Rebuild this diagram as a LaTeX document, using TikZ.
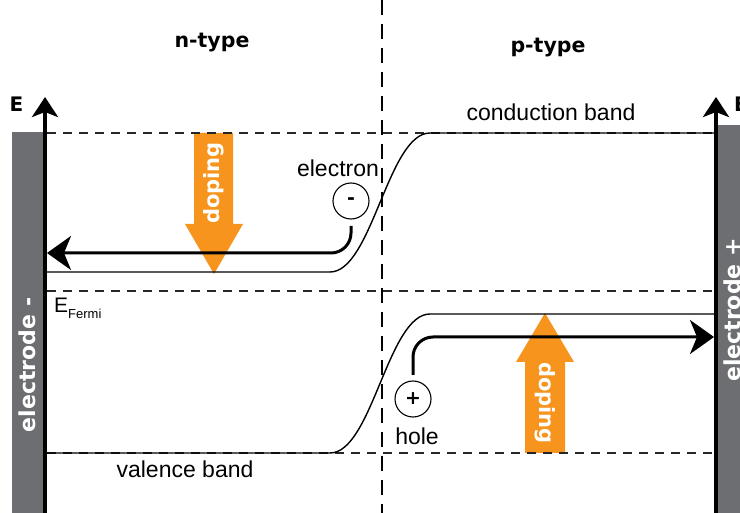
\documentclass[tikz,border=0pt]{standalone}
\usepackage{fontspec}
\setmainfont{Liberation Sans}
\newfontfamily\heavyfont{DejaVu Sans}
\usetikzlibrary{arrows.meta}
\definecolor{electrodegray}{RGB}{109,110,113}
\definecolor{dopingorange}{RGB}{247,148,29}
\tikzstyle{electrode} = [
    fill=electrodegray, draw=none
]
\tikzstyle{eltext} = [
    text=white, inner sep=0pt,
    font=\heavyfont\bfseries\fontsize{22}{26}\selectfont
]
\tikzstyle{typelabel} = [
    inner sep=0pt, anchor=base,
    font=\heavyfont\bfseries\fontsize{20.5}{24}\selectfont
]
\tikzstyle{bandlabel} = [
    inner sep=0pt, anchor=base,
    font=\fontsize{23}{27}\selectfont
]
\tikzstyle{carrier} = [
    circle, draw, line width=1.1pt,
    minimum size=36pt, inner sep=0pt,
    font=\heavyfont\bfseries\fontsize{19}{22}\selectfont
]
\tikzstyle{band} = [line width=1.4pt]
\tikzstyle{level} = [line width=1.1pt, draw=black!85, dash pattern=on 9pt off 7pt]
\tikzstyle{interface} = [line width=2.8pt, dash pattern=on 15pt off 9pt]
\tikzstyle{axis} = [line width=4.5pt, -{Stealth[length=20pt,width=26pt,inset=5pt]}]
\tikzstyle{flow} = [line width=3pt, rounded corners=20pt, -{Stealth[length=24pt,width=34pt,inset=7pt]}]
\tikzstyle{dopingarrow} = [fill=dopingorange, draw=none]

\begin{document}
\begin{tikzpicture}[x=1pt,y=-1pt]
        \useasboundingbox (0,0) rectangle (740,513);

        % Draw electrodes
        \fill [electrode] (12,132) rectangle (43,513);
        \fill [electrode] (718,125) rectangle (760,513);
        \node (elminus) [eltext, rotate=90] at (27,365) {electrode -};
        \node (elplus) [eltext, rotate=90] at (732,310) {electrode +};

        % Draw doping arrows
        \fill [dopingarrow] (194,133) -- (233,133) -- (233,224) -- (243,224)
            -- (214,274) -- (185,224) -- (194,224) -- cycle;
        \fill [dopingarrow] (525,453) -- (565,453) -- (565,362) -- (574,362)
            -- (545,313) -- (516,362) -- (525,362) -- cycle;
        \node (dopen) [eltext, font=\heavyfont\bfseries\fontsize{21}{24}\selectfont, rotate=90] at (214,183) {doping};
        \node (dopep) [eltext, font=\heavyfont\bfseries\fontsize{21}{24}\selectfont, rotate=-90] at (545,403) {doping};

        % Draw levels
        \draw [level] (47,133) -- (714,133);
        \draw [level] (47,291) -- (714,291);
        \draw [level] (47,453) -- (714,453);
        \draw [interface] (382,0) -- (382,513);

        % Draw bands
        \draw [band] (47,272) -- (330,272) .. controls (372,272) and (388,133) .. (430,133) -- (714,133);
        \draw [band] (47,453) -- (330,453) .. controls (372,453) and (388,314) .. (430,314) -- (714,314);

        % Draw axes
        \coordinate (lbot) at (45,513);
        \coordinate (ltop) at (45,97);
        \coordinate (rbot) at (716,513);
        \coordinate (rtop) at (716,97);
        \draw [axis] (lbot) -- (ltop);
        \draw [axis] (rbot) -- (rtop);
        \node (eleft) [typelabel, font=\heavyfont\bfseries\fontsize{20}{22}\selectfont] at (16.5,112) {E};
        \node (eright) [typelabel, anchor=base west, font=\heavyfont\bfseries\fontsize{20}{22}\selectfont] at (734,112) {E};

        % Draw labels
        \node (ntype) [typelabel] at (212,48) {n-type};
        \node (ptype) [typelabel] at (548,53) {p-type};
        \node (cband) [bandlabel] at (551,121) {conduction band};
        \node (vband) [bandlabel] at (185,478) {valence band};
        \node (fermi) [bandlabel, anchor=base west, font=\fontsize{21}{24}\selectfont] at (54,313)
            {E\raisebox{-6pt}{\fontsize{13}{15}\selectfont Fermi}};

        % Draw carriers
        \node (eminus) [carrier] at (351,201) {-};
        \node (hplus) [carrier] at (413,399) {+};
        \node (elabel) [bandlabel] at (338,177) {electron};
        \node (hlabel) [bandlabel] at (417,445) {hole};

        % Draw arrows
        \coordinate (estart) at (351,226);
        \coordinate (eend) at (47,253);
        \coordinate (hstart) at (413,375);
        \coordinate (hend) at (714,337);
        \draw [flow] (estart) |- (eend);
        \draw [flow] (hstart) |- (hend);
    \end{tikzpicture}
\end{document}
